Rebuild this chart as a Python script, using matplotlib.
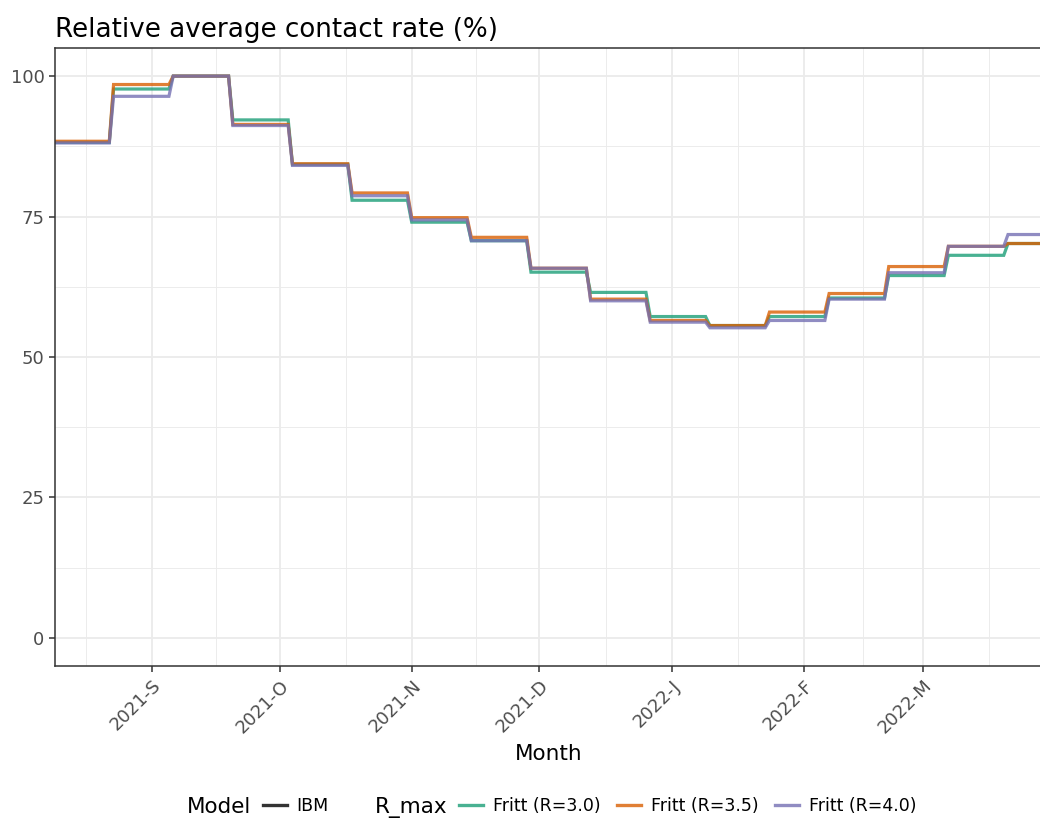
import numpy as np
import pandas as pd
import matplotlib
matplotlib.use("Agg")
from matplotlib import pyplot as plt
from matplotlib.lines import Line2D

# biweekly contact-rate levels (%) per R_max scenario
step_starts = pd.to_datetime([
    "2021-08-09", "2021-08-23", "2021-09-06", "2021-09-20", "2021-10-04",
    "2021-10-18", "2021-11-01", "2021-11-15", "2021-11-29", "2021-12-13",
    "2021-12-27", "2022-01-10", "2022-01-24", "2022-02-07", "2022-02-21",
    "2022-03-07", "2022-03-21"])
start_date = pd.Timestamp("2021-08-07")
end_date = pd.Timestamp("2022-04-02")

rate_r30 = [88.2, 97.7, 100.0, 92.2, 84.3, 77.9, 74.0, 70.7, 65.1, 61.5,
            57.2, 55.6, 57.2, 60.5, 64.5, 68.1, 70.2]
rate_r35 = [88.4, 98.5, 100.0, 91.4, 84.4, 79.2, 74.8, 71.3, 65.8, 60.3,
            56.5, 55.6, 58.0, 61.3, 66.1, 69.7, 70.2]
rate_r40 = [88.1, 96.4, 100.0, 91.2, 84.1, 78.7, 74.4, 70.7, 65.8, 60.0,
            56.2, 55.2, 56.5, 60.3, 65.0, 69.7, 71.8]

labels = ["Fritt (R=3.0)", "Fritt (R=3.5)", "Fritt (R=4.0)"]
colors = ["#1b9e77", "#d95f02", "#7570b3"]

month_labels = ["2021-S", "2021-O", "2021-N", "2021-D",
                "2022-J", "2022-F", "2022-M"]

# major breaks on month starts, minor breaks halfway between them
month_ticks = pd.date_range("2021-08-01", "2022-04-01", freq="MS")
minor_ticks = month_ticks[:-1] + (month_ticks[1:] - month_ticks[:-1]) / 2
month_ticks = month_ticks[1:-1]

# expand segment levels to a daily series
days = pd.date_range(start_date, end_date, freq="D")
seg_idx = np.clip(np.searchsorted(step_starts.values, days.values, side="right") - 1, 0, None)

fig = plt.figure(figsize=(10.4, 8.21), dpi=100)
ax = fig.add_axes([55/1040, 1-666/821, 1-55/1040+0.002, (666-48)/821])

for vals, col, lab in zip([rate_r30, rate_r35, rate_r40], colors, labels):
    ax.plot(days, np.asarray(vals)[seg_idx], color=col, lw=2.3, alpha=0.8,
            solid_joinstyle="miter")

ax.set_xticks(month_ticks)
ax.set_xticklabels(month_labels, rotation=45, ha="right", va="top",
                   rotation_mode="anchor", color="#4d4d4d", fontsize=13)
ax.set_xticks(minor_ticks, minor=True)
ax.set_yticks([0, 25, 50, 75, 100])
ax.set_yticks([12.5, 37.5, 62.5, 87.5], minor=True)
ax.tick_params(axis="y", labelcolor="#4d4d4d", labelsize=13)
ax.tick_params(which="major", length=4, width=1.1, color="#333333")
ax.tick_params(which="minor", length=0)

ax.set_xlim(pd.Timestamp("2021-08-09 06:00"), pd.Timestamp("2022-03-29"))
ax.set_ylim(-5, 105)

ax.grid(which="major", color="#ebebeb", lw=1.3)
ax.grid(which="minor", color="#ebebeb", lw=0.65)
ax.set_axisbelow(True)
for side in ["left", "bottom", "top"]:
    ax.spines[side].set_color("#333333")
    ax.spines[side].set_linewidth(1.1)
ax.spines["right"].set_visible(False)

ax.set_xlabel("Month", fontsize=15.5, labelpad=5)
ax.set_title("Relative average contact rate (%)", loc="left", fontsize=18.8,
             pad=8)

# legends along the bottom
fig.text(187/1040, 1-807/821, "Model", fontsize=15.5, va="center", ha="left")
leg1 = fig.legend([Line2D([], [], color="#333333", lw=2.4)], ["IBM"],
                  loc="center left", bbox_to_anchor=(263/1040, 1-806/821),
                  frameon=False, fontsize=12.5, handlelength=1.4,
                  handletextpad=0.5, borderaxespad=0, borderpad=0)
fig.text(375/1040, 1-807/821, "R_max", fontsize=15.5, va="center", ha="left")
handles = [Line2D([], [], color=c, lw=2.4, alpha=0.8) for c in colors]
leg2 = fig.legend(handles, labels, loc="center left", ncol=3,
                  bbox_to_anchor=(459/1040, 1-806/821), frameon=False,
                  fontsize=12.5, handlelength=1.4, handletextpad=0.55,
                  columnspacing=0.95, borderaxespad=0, borderpad=0)

fig.savefig("out.png", dpi=100)
